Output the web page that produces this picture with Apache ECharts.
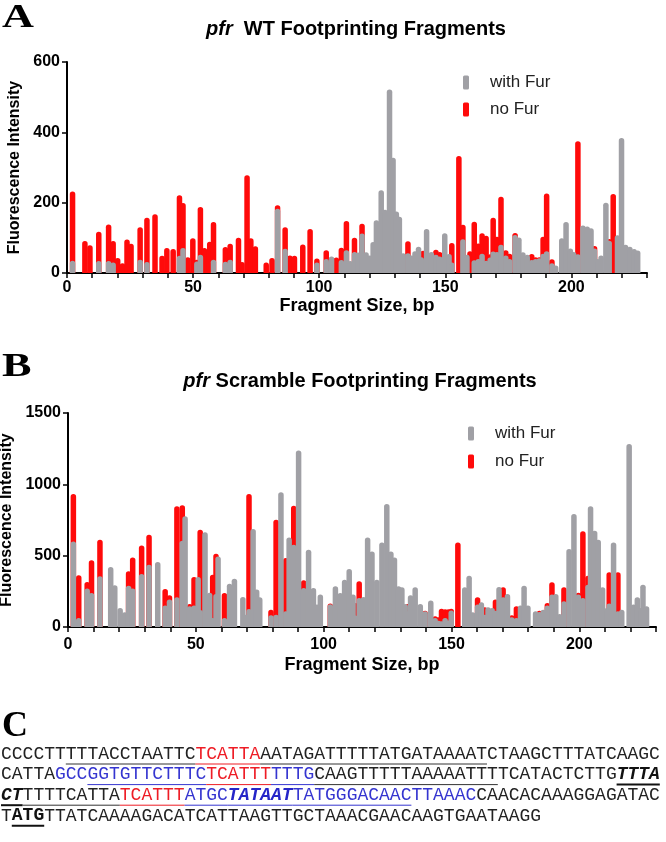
<!DOCTYPE html>
<html><head><meta charset="utf-8">
<script src="https://cdn.jsdelivr.net/npm/echarts@6/dist/echarts.min.js"></script>
<style>html,body{margin:0;padding:0;background:#fff}#c{width:666px;height:842px}</style>
</head><body><div id="c"></div>
<script>
// ---------- Panel A : pfr WT ----------
const sizesA = [2.2,7.1,9.1,12.6,16.5,18.3,20.1,22,23.8,25.4,29,31.7,34.9,37.7,39.6,42.1,44.6,46,47.9,49.9,51.5,52.9,54.5,56.6,58.1,62.8,64.7,68,69.4,71.4,72.9,74.7,79,81.3,83.5,86.5,88.4,90.2,93.5,96.4,99.1,102.8,104.9,106.8,108.8,110.8,112.3,114,115.4,117,118.6,120.1,121.4,122.7,124.6,126.1,127.9,129.3,130.6,131.8,133.3,135.2,136.6,138,139.4,140.5,141.2,142.6,144.5,146.3,147.8,149.8,151.5,152.6,155.4,157,158.6,159.8,161.5,163.1,164.6,166.2,167.8,169,170.5,172.1,174,175.5,177.7,179.2,180.8,182.5,184.3,185.8,187.3,188.8,190.2,192.3,193.8,196.2,197.9,199.6,200.9,202.6,204.6,206.3,207.8,209.2,210.5,211.8,213.7,215,216.6,218.3,219.9,221.5,223.2,224.9,226.3];
const noFurA = [232,91,79,117,138,91,43,28,95,83,130,157,167,49,71,68,221,199,45,99,38,188,71,89,145,74,83,100,31,278,99,76,30,43,193,130,50,49,81,125,41,65,null,44,72,148,null,100,null,140,null,null,null,null,null,null,null,null,null,null,null,90,null,null,null,null,63,null,null,66,60,null,null,85,333,137,null,62,146,84,113,106,53,157,103,217,65,55,114,null,null,null,54,45,45,103,226,39,null,null,null,null,null,375,null,null,null,77,null,null,null,97,225,null,null,null,null,null,null];
const withFurA = [35,0,0,34,34,30,0,0,0,0,38,31,0,0,0,0,49,71,0,0,33,52,0,0,38,32,38,0,0,0,0,0,0,0,183,69,0,0,0,0,30,40,47,0,37,65,34,60,58,112,59,50,88,150,235,180,522,328,175,160,56,56,50,62,75,45,0,125,60,52,47,113,54,30,0,96,52,0,36,40,55,35,44,61,60,80,50,40,108,101,59,52,37,40,42,55,62,28,21,99,145,70,60,53,135,132,127,70,40,50,200,92,0,107,384,80,75,68,64];

// ---------- Panel B : pfr Scramble ----------
const sizesB = [2.1,4.2,7.5,9.2,12.5,16.7,18.3,20.4,22.2,23.7,25.3,28.8,31.7,35.1,38,39.7,42.6,44.7,45.8,47.6,49.3,50.9,51.7,53.6,55.4,56.6,57.9,58.7,61.2,63.2,65.1,68.4,69.6,70.8,72.4,73.8,75,79.4,81.4,83.3,85.2,86.5,88.3,90.2,92.2,94.1,96,97.4,98.7,102.6,104.6,106.5,108.2,110,111.5,112.4,113.9,115.6,117.2,118.9,120.8,122.8,124.7,126.3,127.7,129.3,130.6,131.9,132.8,134,135.8,137.8,139.7,141.9,143.6,144.9,146.1,147.5,148.8,149.9,152.5,155.2,156.9,158.3,160.2,161.7,163,164.3,165.9,167.2,168.6,170.2,171.9,173.6,175.4,177,178.4,179.9,182.9,184.4,185.9,187.5,189.3,190.8,192.3,194,196,197.9,199.6,201.4,203.4,204.4,206,207.4,209.1,210.8,211.7,213.4,215.1,216.6,219.5,221.2,222.7,224.1,224.9,226.3];
const noFurB = [932,362,315,467,612,null,null,null,null,390,488,572,647,null,266,222,846,853,null,161,350,null,682,null,null,367,514,null,238,null,null,null,null,932,null,null,null,121,752,null,484,null,850,null,327,null,null,null,null,165,null,null,null,null,null,168,320,null,null,null,null,null,null,null,null,null,null,null,161,null,null,null,114,null,75,68,128,124,124,128,593,null,null,null,208,null,138,null,null,192,null,278,null,82,145,null,null,null,null,114,null,168,313,null,null,278,null,null,240,671,360,null,null,null,null,null,383,null,383,null,null,null,null,null,null,null];
const withFurB = [600,63,269,238,355,420,292,133,103,290,269,371,437,456,150,192,208,605,776,145,150,350,120,664,240,63,231,495,63,304,339,210,86,126,687,262,208,82,86,944,110,628,577,1238,273,542,273,157,227,160,285,238,332,407,227,80,203,210,628,530,332,593,862,530,488,285,278,161,110,222,278,161,110,185,63,44,40,63,45,115,0,278,360,103,157,173,86,138,133,114,280,208,231,68,63,150,290,150,110,105,121,150,227,231,91,180,547,792,227,203,297,846,675,612,278,133,164,593,110,121,1283,157,208,133,297,145];

// ---------- axes ----------
const xTickLabels = [0,50,100,150,200];
const xRange = [0,230];
const yTicksA = [0,200,400,600];
const yTicksB = [0,500,1000,1500];

// ---------- panel C sequence (text, style) ----------
const seqLines = [
  [['CCCCTT','n'],['TTTACCTAATTC','u'],['TCATTA','r'],['AATAGATTTTTATGATAAAAT','u'],['CTAAGCTTTATCAAGC','n']],
  [['CATTA','n'],['GCC','b'],['GGTGTTCTTTC','bu'],['TCATTT','r'],['TTTG','bu'],['CAAGTTTTTAAAAATTT','u'],['TCATACTCTTG','n'],['TTTA','kiu']],
  [['CT','kiu'],['TTTTCATTA','u'],['TCATTT','r'],['ATGC','bu'],['TATAAT','biu'],['TATGGGACAAC','bu'],['TTAAAC','b'],['CAACACAAAGGAGATAC','n']],
  [['T','n'],['ATG','kbu'],['TTATCAAAAGACATCATTAAGTTGCTAAACGAACAAGTGAATAAGG','n']]
];

const SANS = '"Liberation Sans", Arial, sans-serif';
const SERIF = '"Liberation Serif", "Times New Roman", serif';
const MONO = '"Liberation Mono", "Courier New", monospace';
const RED = '#ff0a0a', GREY = '#a0a0a5';

function pairs(xs, ys){ return xs.map((x,i)=>[x, ys[i]==null ? '-' : ys[i]]); }

function xAxisCfg(gi, labelMargin, nameGap){
  return {type:'value', gridIndex:gi, min:xRange[0], max:xRange[1], interval:10,
    axisLine:{show:true, onZero:false, lineStyle:{color:'#000', width:2}},
    axisTick:{show:true, length:5, lineStyle:{color:'#000', width:1.5}},
    axisLabel:{formatter:v=> xTickLabels.includes(v) ? String(v) : '', color:'#000', fontWeight:'bold', fontSize:16, fontFamily:SANS, margin:labelMargin},
    splitLine:{show:false},
    name:'Fragment Size, bp', nameLocation:'middle', nameGap:nameGap,
    nameTextStyle:{color:'#000', fontWeight:'bold', fontSize:18, fontFamily:SANS}};
}
function yAxisCfg(gi, ticks){
  return {type:'value', gridIndex:gi, min:ticks[0], max:ticks[ticks.length-1], interval:ticks[1]-ticks[0],
    axisLine:{show:true, onZero:false, lineStyle:{color:'#000', width:2}},
    axisTick:{show:true, length:5, lineStyle:{color:'#000', width:1.5}},
    axisLabel:{formatter:v=>String(v), color:'#000', fontWeight:'bold', fontSize:16, fontFamily:SANS, margin:7},
    splitLine:{show:false},
    name:'Fluorescence Intensity', nameLocation:'middle', nameGap:42, nameRotate:90,
    nameTextStyle:{color:'#000', fontWeight:'bold', fontSize:16, fontFamily:SANS}};
}
function barSeries(name, gi, xs, ys, color){
  return {type:'bar', name:name, xAxisIndex:gi, yAxisIndex:gi, data:pairs(xs, ys),
    barWidth:5.5, barGap:'-100%', itemStyle:{color:color, borderRadius:[2.7,2.7,0,0]},
    emphasis:{disabled:true}, animation:false};
}
function legendCfg(left, top, gap){
  return {data:['with Fur','no Fur'], orient:'vertical', left:left, top:top, itemWidth:6, itemHeight:14, itemGap:gap,
    icon:'roundRect', selectedMode:false,
    textStyle:{fontSize:17, color:'#222', fontFamily:SANS, padding:[0,0,0,16]}};
}

// Panel C graphic elements
const CW = 10.8, C_LEFT = 1, C_TOP = 754, C_STEP = 20.6;
const cElems = [];
const richStyles = {
  n:{fill:'#222'}, u:{fill:'#222'}, r:{fill:'#ee1c25'}, b:{fill:'#3535d0'}, bu:{fill:'#3535d0'},
  kiu:{fill:'#111', fontWeight:'bold', fontStyle:'italic'}, biu:{fill:'#2525c8', fontWeight:'bold', fontStyle:'italic'},
  kbu:{fill:'#111', fontWeight:'bold'}
};
const ulColor = {u:'#333', r:'#ee1c25', bu:'#3535d0', biu:'#3535d0', kiu:'#111', kbu:'#111'};
const ulWidth = {kiu:2, kbu:2};
const rich = {};
Object.keys(richStyles).forEach(k=>{ rich[k] = Object.assign({fontSize:18, fontFamily:MONO, fontWeight:'normal', fontStyle:'normal'}, richStyles[k]); });
seqLines.forEach((line, li)=>{
  const cy = C_TOP + li*C_STEP;
  let txt = '', idx = 0;
  line.forEach(([s, st])=>{
    txt += '{' + st + '|' + s + '}';
    if (ulColor[st]) {
      cElems.push({type:'line', shape:{x1:C_LEFT+idx*CW, y1:cy+10, x2:C_LEFT+(idx+s.length)*CW, y2:cy+10},
        style:{stroke:ulColor[st], lineWidth:ulWidth[st]||1}, silent:true});
    }
    idx += s.length;
  });
  cElems.push({type:'text', x:C_LEFT, y:cy, style:{text:txt, rich:rich, font:'18px '+MONO, fill:'#222', verticalAlign:'middle', align:'left'}, silent:true});
});

const titleRich = {i:{fontStyle:'italic', fontWeight:'bold', fontSize:20, fontFamily:SANS, fill:'#000'}};
const graphics = [
  {type:'text', x:2, y:18, scaleX:1.3, style:{text:'A', font:'bold 34px '+SERIF, fill:'#000', verticalAlign:'middle'}},
  {type:'text', x:2, y:367, scaleX:1.3, style:{text:'B', font:'bold 34px '+SERIF, fill:'#000', verticalAlign:'middle'}},
  {type:'text', x:2, y:727, style:{text:'C', font:'bold 36px '+SERIF, fill:'#000', verticalAlign:'middle'}},
  {type:'text', x:356, y:29, style:{text:'{i|pfr}  WT Footprinting Fragments', font:'bold 20px '+SANS, fill:'#000', align:'center', verticalAlign:'middle', rich:titleRich}},
  {type:'text', x:360, y:381, style:{text:'{i|pfr} Scramble Footprinting Fragments', font:'bold 20px '+SANS, fill:'#000', align:'center', verticalAlign:'middle', rich:titleRich}}
].concat(cElems);

const chart = echarts.init(document.getElementById('c'));
chart.setOption({
  animation:false,
  backgroundColor:'#fff',
  grid:[
    {left:67, right:19, top:62, bottom:569, containLabel:false, outerBoundsMode:'none'},
    {left:68, right:10, top:413, bottom:215, containLabel:false, outerBoundsMode:'none'}
  ],
  xAxis:[xAxisCfg(0, 7, 21), xAxisCfg(1, 10, 29)],
  yAxis:[yAxisCfg(0, yTicksA), yAxisCfg(1, yTicksB)],
  legend:[legendCfg(458, 69, 10), legendCfg(463, 420, 11)],
  series:[
    barSeries('no Fur', 0, sizesA, noFurA, RED),
    barSeries('with Fur', 0, sizesA, withFurA, GREY),
    barSeries('no Fur', 1, sizesB, noFurB, RED),
    barSeries('with Fur', 1, sizesB, withFurB, GREY)
  ],
  graphic:graphics
});
</script></body></html>
